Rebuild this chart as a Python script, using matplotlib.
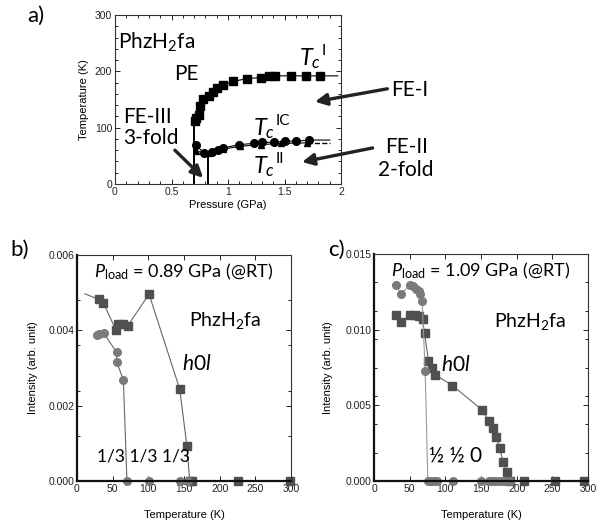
import numpy as np
import matplotlib
matplotlib.use("Agg")
import matplotlib.pyplot as plt
from matplotlib.ticker import MultipleLocator, FormatStrFormatter

# ---- panel a: phase diagram ----
p_tc1 = [0.71, 0.72, 0.74, 0.756, 0.78, 0.83, 0.87, 0.90, 0.96, 1.04, 1.17, 1.29, 1.36, 1.42, 1.56, 1.69, 1.81]
t_tc1 = [111, 118, 123, 138, 150, 156, 163, 170, 175, 182, 187, 189, 192, 192, 192, 192, 192]
p_tc1_line_end = 1.97
t_tc1_line_end = 192

p_tcic = [0.72, 0.785, 0.86, 0.91, 0.96, 1.10, 1.23, 1.30, 1.41, 1.50, 1.60, 1.72]
t_tcic = [69, 55, 56, 60, 64, 70, 72, 74, 74, 76, 76, 78]

p_tc2 = [0.72, 0.83, 0.96, 1.11, 1.29, 1.47, 1.70]
t_tc2 = [58, 55, 62, 67, 70, 72, 73]

p_vert = [0.70, 0.82]
t_vert_top = [113, 55]

# ---- panel b: 0.89 GPa ----
b_sq_T = [30.6, 37, 54.5, 57, 65, 71, 101, 144, 154, 158, 161, 226, 298]
b_sq_I = [0.00482, 0.00473, 0.00401, 0.00416, 0.00417, 0.00412, 0.00496, 0.00244, 0.00094, 0.0, 0.0, 0.0, 0.0]
b_sq_start = (11, 0.00497)

b_ci_T = [28.7, 31, 37.6, 55.5, 55.5, 65, 70, 101, 144, 155]
b_ci_I = [0.00388, 0.00389, 0.00392, 0.00342, 0.00317, 0.00268, 0.0, 0.0, 0.0, 0.0]

# ---- panel c: 1.09 GPa ----
c_sq_T = [31, 37.5, 50.6, 57.7, 63.3, 68, 70.8, 76.4, 81.1, 85.8, 110, 151.4, 160.8,
          166.4, 171.6, 176.3, 181, 186, 190, 210, 253.6, 295]
c_sq_I = [0.01094, 0.0105, 0.01094, 0.01094, 0.01088, 0.01068, 0.00977, 0.00794, 0.0075,
          0.00702, 0.00631, 0.0047, 0.00397, 0.00349, 0.00289, 0.00216, 0.00124, 0.00057,
          0.0, 0.0, 0.0, 0.0]

c_ci_T = [30.5, 37.5, 50.6, 55.3, 58.6, 62.4, 64.7, 67.5, 71.7, 75.5, 80, 84, 88, 110.6,
          150, 161, 165.5, 170, 175, 180, 184, 190]
c_ci_I = [0.01297, 0.01238, 0.01293, 0.01286, 0.01271, 0.01253, 0.01238, 0.01191, 0.0073,
          0, 0, 0, 0, 0, 0, 0, 0, 0, 0, 0, 0, 0]

TXT = "Lato"
TICKFONT = "Liberation Sans"

plt.rcParams["mathtext.fontset"] = "custom"
plt.rcParams["mathtext.rm"] = "Lato"
plt.rcParams["mathtext.it"] = "Lato:italic"

fig = plt.figure(figsize=(6.02, 5.24), dpi=100)


def style_axes(ax, thick_lb=False):
    for side in ["top", "right", "left", "bottom"]:
        ax.spines[side].set_linewidth(0.8)
        ax.spines[side].set_color("#333333")
    if thick_lb:
        for side in ["left", "bottom"]:
            ax.spines[side].set_linewidth(1.6)
            ax.spines[side].set_color("#111111")
    ax.tick_params(which="both", direction="in", top=True, right=True, labelsize=7.5,
                   width=0.7, colors="#222222")
    ax.tick_params(which="major", length=3.5, pad=2)
    ax.tick_params(which="minor", length=2.5)
    for lab in ax.get_xticklabels() + ax.get_yticklabels():
        lab.set_fontfamily(TICKFONT)


# ---------------- panel a ----------------
axa = fig.add_axes([115 / 602, 1 - 184 / 524, 226 / 602, 169 / 524])
axa.set_xlim(0, 2)
axa.set_ylim(0, 300)
axa.xaxis.set_major_locator(MultipleLocator(0.5))
axa.xaxis.set_minor_locator(MultipleLocator(0.1))
axa.yaxis.set_major_locator(MultipleLocator(100))
axa.yaxis.set_minor_locator(MultipleLocator(20))
axa.set_xticks([0, 0.5, 1, 1.5, 2])
axa.set_xticklabels(["0", "0.5", "1", "1.5", "2"])
style_axes(axa)

axa.plot(p_tc1 + [p_tc1_line_end], t_tc1 + [t_tc1_line_end], color="black", lw=0.8)
axa.plot(p_tc1, t_tc1, "s", color="black", ms=6)
axa.plot(p_tcic + [1.9], t_tcic + [78], color="black", lw=0.8)
axa.plot(p_tcic, t_tcic, "o", color="black", ms=5.5)
axa.plot(p_tc2, t_tc2, color="black", lw=0.8)
axa.plot([p_tc2[-1], 1.9], [t_tc2[-1], t_tc2[-1]], color="black", lw=1.0, ls="--")
axa.plot(p_tc2, t_tc2, "^", color="black", ms=5)
for p, t in zip(p_vert, t_vert_top):
    axa.plot([p, p], [0, t], color="black", lw=1.4)

axa.set_xlabel("Pressure (GPa)", fontsize=8, family=TICKFONT, labelpad=2.5)
axa.set_ylabel("Temperature (K)", fontsize=8, family=TICKFONT, labelpad=4)

axa.text(0.37, 252, "PhzH$_2$fa", fontsize=15, family=TXT, ha="center", va="center")
axa.text(0.63, 195, "PE", fontsize=15, family=TXT, ha="center", va="center")
axa.text(0.07, 119, "FE-III", fontsize=15, family=TXT, ha="left", va="center")
axa.text(0.07, 82, "3-fold", fontsize=15, family=TXT, ha="left", va="center")
axa.text(1.63, 222, "$T_c$", fontsize=17, family=TXT, ha="left", va="center")
axa.text(1.83, 236, "I", fontsize=11, family=TXT, ha="left", va="center")
axa.text(1.22, 98, "$T_c$", fontsize=17, family=TXT, ha="left", va="center")
axa.text(1.42, 112, "IC", fontsize=11, family=TXT, ha="left", va="center")
axa.text(1.22, 31, "$T_c$", fontsize=17, family=TXT, ha="left", va="center")
axa.text(1.42, 45, "II", fontsize=11, family=TXT, ha="left", va="center")

arrow_kw = dict(arrowstyle="-|>,head_length=0.7,head_width=0.35", lw=2.4, color="#222222",
                shrinkA=0, shrinkB=0)
axa.annotate("", xy=(1.77, 146), xytext=(2.41, 169), arrowprops=arrow_kw, annotation_clip=False)
axa.annotate("", xy=(1.655, 39), xytext=(2.28, 64), arrowprops=arrow_kw, annotation_clip=False)
axa.annotate("", xy=(0.78, 11), xytext=(0.53, 60), arrowprops=arrow_kw, annotation_clip=False)
axa.text(2.61, 167, "FE-I", fontsize=15, family=TXT, ha="center", va="center", clip_on=False)
axa.text(2.58, 66, "FE-II", fontsize=15, family=TXT, ha="center", va="center", clip_on=False)
axa.text(2.57, 25, "2-fold", fontsize=15, family=TXT, ha="center", va="center", clip_on=False)

fig.text(36 / 602, 1 - 16 / 524, "a)", fontsize=16, family=TXT, ha="center", va="center")

# ---------------- panel b ----------------
SQ_COL = "#505050"
CI_COL = "#7a7a7a"
LINE_COL = "#666666"

axb = fig.add_axes([77 / 602, 1 - 481 / 524, 214 / 602, 226 / 524])
axb.set_xlim(0, 300)
axb.set_ylim(0, 0.006)
axb.xaxis.set_major_locator(MultipleLocator(50))
axb.yaxis.set_major_locator(MultipleLocator(0.002))
axb.yaxis.set_minor_locator(MultipleLocator(0.0012))
axb.yaxis.set_major_formatter(FormatStrFormatter("%.3f"))
style_axes(axb, thick_lb=True)

axb.plot([b_sq_start[0]] + b_sq_T, [b_sq_start[1]] + b_sq_I, color=LINE_COL, lw=0.8)
axb.plot(b_sq_T, b_sq_I, "s", color=SQ_COL, ms=6, clip_on=False)
axb.plot(b_ci_T, b_ci_I, color=LINE_COL, lw=0.8)
axb.plot(b_ci_T, b_ci_I, "o", color=CI_COL, ms=5.5, clip_on=False)

axb.set_xlabel("Temperature (K)", fontsize=8, family=TICKFONT, labelpad=12)
axb.set_ylabel("Intensity (arb. unit)", fontsize=8, family=TICKFONT, labelpad=7)
axb.text(0.5, 0.925, "$P_{\\mathrm{load}}$ = 0.89 GPa (@RT)", transform=axb.transAxes,
         fontsize=13, family=TXT, ha="center", va="center")
axb.text(208, 0.00427, "PhzH$_2$fa", fontsize=14, family=TXT, ha="center", va="center")
axb.text(168, 0.0031, "$h0l$", fontsize=15, family=TXT, ha="center", va="center")
axb.text(93, 0.00066, "1/3 1/3 1/3", fontsize=12.5, family=TXT, ha="center", va="center")
fig.text(20 / 602, 1 - 250 / 524, "b)", fontsize=16, family=TXT, ha="center", va="center")

# ---------------- panel c ----------------
axc = fig.add_axes([374 / 602, 1 - 481 / 524, 214 / 602, 227 / 524])
axc.set_xlim(0, 300)
axc.set_ylim(0, 0.015)
axc.xaxis.set_major_locator(MultipleLocator(50))
axc.yaxis.set_major_locator(MultipleLocator(0.005))
axc.yaxis.set_minor_locator(MultipleLocator(0.001875))
axc.yaxis.set_major_formatter(FormatStrFormatter("%.3f"))
style_axes(axc, thick_lb=True)

axc.plot(c_sq_T, c_sq_I, color=LINE_COL, lw=0.8)
axc.plot(c_sq_T, c_sq_I, "s", color=SQ_COL, ms=6, clip_on=False)
axc.plot(c_ci_T, c_ci_I, color="#999999", lw=0.8)
axc.plot(c_ci_T, c_ci_I, "o", color=CI_COL, ms=5.5, clip_on=False)

axc.set_xlabel("Temperature (K)", fontsize=8, family=TICKFONT, labelpad=12)
axc.set_ylabel("Intensity (arb. unit)", fontsize=8, family=TICKFONT, labelpad=9)
axc.text(0.5, 0.925, "$P_{\\mathrm{load}}$ = 1.09 GPa (@RT)", transform=axc.transAxes,
         fontsize=13, family=TXT, ha="center", va="center")
axc.text(219, 0.01057, "PhzH$_2$fa", fontsize=14, family=TXT, ha="center", va="center")
axc.text(114, 0.00767, "$h0l$", fontsize=15, family=TXT, ha="center", va="center")
axc.text(115, 0.00165, "½ ½ 0", fontsize=15, family=TXT, ha="center", va="center")
fig.text(336 / 602, 1 - 250 / 524, "c)", fontsize=16, family=TXT, ha="center", va="center")

fig.savefig("out.png", dpi=100)
